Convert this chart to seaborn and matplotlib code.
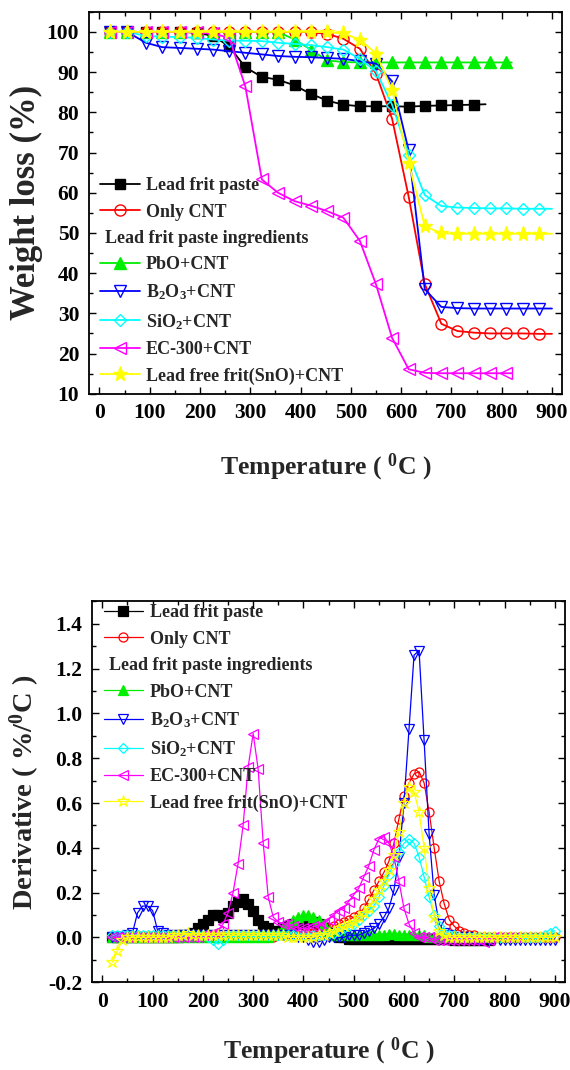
import numpy as np
import matplotlib
matplotlib.use('Agg')
import matplotlib.pyplot as plt
from matplotlib.lines import Line2D
from matplotlib.ticker import MultipleLocator
import seaborn as sns

sns.set_theme(style='ticks')
plt.rcParams['font.family'] = ['Liberation Serif', 'DejaVu Serif']
plt.rcParams['font.weight'] = 'bold'
plt.rcParams['axes.labelweight'] = 'bold'
plt.rcParams['mathtext.fontset'] = 'custom'
plt.rcParams['mathtext.rm'] = 'Liberation Serif:bold'
plt.rcParams['mathtext.it'] = 'Liberation Serif:bold'
plt.rcParams['mathtext.bf'] = 'Liberation Serif:bold'

# --- series names ---
labels = ['Lead frit paste', 'Only CNT', 'PbO+CNT', 'B$_2$O$_3$+CNT',
          'SiO$_2$+CNT', 'EC-300+CNT', 'Lead free frit(SnO)+CNT']
header = 'Lead frit paste ingredients'

# --- TGA (weight loss, %) ---
t_tga = [20, 55, 92, 125, 160, 193, 226, 258, 290, 323, 355, 388, 420, 453,
         485, 518, 550, 582, 615, 647, 680, 712, 745, 777, 809, 842, 874]

tga_black_x = t_tga[:23] + [768]
tga_black = [100, 100, 100, 100, 100, 99.8, 99.0, 96.4, 91.2, 88.8, 88.1, 86.7,
             84.6, 82.9, 81.9, 81.5, 81.5, 81.5, 81.4, 81.6, 81.7, 81.8, 81.9, 82.0]
tga_red_x = t_tga + [900]
tga_red = [100, 100, 100, 100, 100, 100, 100, 100, 100, 100, 100, 100, 99.9, 99.5,
           98.3, 95.8, 89.6, 78.4, 59.0, 37.3, 27.4, 25.6, 25.2, 25.0, 25.0, 25.0,
           24.9, 24.9]
tga_green_x = t_tga[:25] + [820]
tga_green = [100, 100, 100, 100, 100, 100, 100, 100, 100, 100, 100, 98.1, 95.6,
             92.9, 92.5, 92.4, 92.4, 92.4, 92.4, 92.4, 92.4, 92.4, 92.4, 92.4, 92.4, 92.4]
tga_blue_x = t_tga + [900]
tga_blue = [100, 100, 97.3, 96.2, 96.0, 95.8, 95.6, 95.2, 94.8, 94.4, 94.0, 93.8,
            93.7, 93.5, 93.3, 92.7, 92.1, 87.7, 70.5, 36.0, 31.6, 31.3, 31.2, 31.2,
            31.2, 31.2, 31.2, 31.2]
tga_cyan_x = t_tga + [900]
tga_cyan = [100, 100, 99.0, 98.8, 98.7, 98.5, 98.1, 97.8, 97.8, 97.7, 97.3, 97.0,
            96.7, 96.2, 95.6, 93.3, 90.2, 81.9, 69.5, 59.4, 56.7, 56.3, 56.2, 56.1,
            56.1, 56.0, 56.0, 56.0]
tga_magenta_x = t_tga[:25] + [820]
tga_magenta = [100, 100, 100, 100, 100, 99.9, 99.6, 98.5, 86.5, 63.3, 60.0, 57.9,
               56.8, 55.4, 53.8, 48.0, 37.2, 23.9, 16.1, 15.2, 15.1, 15.1, 15.1,
               15.1, 15.1, 15.1]
tga_yellow_x = t_tga + [900]
tga_yellow = [100, 100, 100, 100, 100, 100, 100, 100, 100, 100, 100, 100, 100,
              99.9, 99.6, 98.1, 94.6, 85.6, 67.4, 51.7, 49.9, 49.8, 49.8, 49.8,
              49.8, 49.8, 49.8, 49.8]

# --- DTG (derivative, %/oC), sampled every 10 oC from 20 oC ---
t_dtg = np.arange(20, 901, 10)

dtg_black = [0.0, 0.0, 0.0, 0.0, 0.0, 0.0, 0.0, 0.0, 0.0, 0.0,
             0.0, 0.0, 0.0, 0.0, 0.01, 0.01, 0.02, 0.04, 0.06, 0.08,
             0.10, 0.10, 0.09, 0.11, 0.14, 0.16, 0.17, 0.15, 0.12, 0.08,
             0.05, 0.04, 0.03, 0.03, 0.04, 0.05, 0.06, 0.06, 0.07, 0.07,
             0.07, 0.06, 0.04, 0.02, 0.01, 0.0, 0.0, -0.005, -0.005, -0.005,
             -0.005, -0.005, -0.005, -0.005, -0.005, -0.005, -0.005, -0.005, -0.005, -0.005,
             -0.005, -0.005, -0.005, -0.005, -0.005, -0.005, -0.005, -0.005, -0.01, -0.01,
             -0.01, -0.01, -0.01, -0.01, -0.01, -0.01]
dtg_red = [0.0, 0.0, 0.0, 0.0, 0.0, 0.0, 0.0, 0.0, 0.0, 0.0,
           0.0, 0.0, 0.0, 0.0, 0.0, 0.0, 0.0, 0.0, 0.0, 0.0,
           0.0, 0.0, 0.0, 0.0, 0.0, 0.0, 0.0, 0.0, 0.0, 0.0,
           0.0, 0.0, 0.0, 0.01, 0.01, 0.01, 0.01, 0.01, 0.01, 0.02,
           0.02, 0.03, 0.03, 0.04, 0.05, 0.06, 0.07, 0.08, 0.09, 0.10,
           0.13, 0.17, 0.21, 0.25, 0.29, 0.34, 0.42, 0.53, 0.63, 0.69,
           0.73, 0.74, 0.69, 0.56, 0.40, 0.25, 0.15, 0.08, 0.05, 0.03,
           0.02, 0.01, 0.01, 0.0, 0.0, 0.0, 0.0, 0.0, 0.0, 0.0,
           0.0, 0.0, 0.0, 0.0, 0.0, 0.0, 0.0, 0.0, 0.0]
dtg_green = [0.0, 0.0, 0.0, 0.0, 0.0, 0.0, 0.0, 0.0, 0.0, 0.0,
             0.0, 0.0, 0.0, 0.0, 0.0, 0.0, 0.0, 0.0, 0.0, 0.0,
             0.0, 0.0, 0.0, 0.0, 0.0, 0.0, 0.0, 0.0, 0.0, 0.0,
             0.0, 0.0, 0.01, 0.02, 0.04, 0.06, 0.08, 0.09, 0.10, 0.10,
             0.09, 0.08, 0.06, 0.03, 0.01, 0.01, 0.01, 0.01, 0.01, 0.01,
             0.01, 0.01, 0.01, 0.01, 0.01, 0.015, 0.015, 0.01, 0.01, 0.01,
             0.01, 0.01, 0.01, 0.0, 0.0, 0.0, 0.0, 0.0, 0.0, 0.0,
             0.0, 0.0, 0.0, 0.0, 0.0, 0.0, 0.0, 0.0, 0.0, 0.0, 0.0]
dtg_blue = [0.0, 0.0, 0.0, 0.01, 0.02, 0.11, 0.14, 0.14, 0.12, 0.03,
            0.02, 0.01, 0.01, 0.01, 0.01, 0.01, 0.01, 0.01, 0.01, 0.01,
            0.01, 0.01, 0.01, 0.01, 0.01, 0.01, 0.01, 0.01, 0.01, 0.01,
            0.01, 0.01, 0.01, 0.01, 0.01, 0.01, 0.01, 0.0, 0.0, -0.01,
            -0.02, -0.02, -0.01, 0.0, 0.0, 0.0, 0.0, 0.01, 0.01, 0.01,
            0.02, 0.03, 0.04, 0.06, 0.09, 0.13, 0.21, 0.36, 0.60, 0.93,
            1.26, 1.28, 0.88, 0.46, 0.19, 0.06, 0.02, 0.01, 0.0, 0.0,
            0.0, 0.0, -0.01, -0.01, -0.01, -0.01, -0.01, -0.01, -0.01, -0.01,
            -0.01, -0.01, -0.01, -0.01, -0.01, -0.01, -0.01, -0.01, -0.01]
dtg_cyan = [0.01, 0.01, 0.01, 0.01, 0.01, 0.01, 0.01, 0.01, 0.01, 0.01,
            0.01, 0.01, 0.01, 0.01, 0.01, 0.01, 0.01, 0.01, 0.01, 0.0,
            -0.01, -0.03, -0.01, 0.01, 0.01, 0.01, 0.01, 0.01, 0.01, 0.01,
            0.01, 0.01, 0.01, 0.01, 0.01, 0.01, 0.01, 0.01, 0.01, 0.01,
            0.01, 0.01, 0.01, 0.02, 0.02, 0.03, 0.04, 0.05, 0.06, 0.08,
            0.10, 0.12, 0.14, 0.18, 0.23, 0.28, 0.33, 0.38, 0.42, 0.44,
            0.42, 0.36, 0.27, 0.18, 0.10, 0.05, 0.02, 0.01, 0.01, 0.0,
            0.0, 0.0, 0.0, 0.0, 0.0, 0.0, 0.0, 0.0, 0.0, 0.0,
            0.0, 0.0, 0.0, 0.0, 0.0, 0.0, 0.01, 0.02, 0.03]
dtg_magenta = [0.0, 0.0, 0.0, 0.0, 0.0, 0.0, 0.0, 0.0, 0.0, 0.0,
               0.0, 0.0, 0.0, 0.0, 0.0, 0.0, 0.0, 0.0, 0.01, 0.01,
               0.02, 0.03, 0.06, 0.11, 0.20, 0.33, 0.50, 0.76, 0.91, 0.75,
               0.42, 0.18, 0.09, 0.07, 0.06, 0.06, 0.05, 0.04, 0.04, 0.04,
               0.05, 0.05, 0.06, 0.08, 0.10, 0.12, 0.13, 0.16, 0.19, 0.22,
               0.27, 0.32, 0.39, 0.44, 0.45, 0.42, 0.36, 0.25, 0.13, 0.06,
               0.02, 0.0, 0.0, 0.0, -0.01, -0.01, -0.01, -0.01, -0.01, -0.01,
               -0.01, -0.01, -0.01, -0.01, -0.02, -0.01, 0.0, 0.0, 0.0, 0.0, 0.0]
dtg_yellow = [-0.11, -0.06, -0.01, 0.0, 0.0, 0.0, 0.0, 0.0, 0.0, 0.0,
              0.0, 0.0, 0.01, 0.01, 0.01, 0.02, 0.01, 0.01, 0.01, 0.01,
              0.01, 0.01, 0.01, 0.01, 0.01, 0.01, 0.01, 0.01, 0.01, 0.01,
              0.01, 0.01, 0.01, 0.01, 0.01, 0.0, 0.0, 0.0, 0.0, 0.0,
              0.0, 0.01, 0.01, 0.02, 0.03, 0.04, 0.05, 0.06, 0.07, 0.09,
              0.11, 0.13, 0.17, 0.21, 0.25, 0.30, 0.37, 0.47, 0.60, 0.67,
              0.65, 0.56, 0.40, 0.22, 0.09, 0.03, 0.01, 0.0, 0.0, 0.0,
              0.0, 0.0, 0.0, 0.0, 0.0, 0.0, 0.0, 0.0, 0.0, 0.0,
              0.0, 0.0, 0.0, 0.0, 0.0, 0.0, 0.0, 0.0, 0.0]

# style per series: color, marker, filled(top), filled(bottom)
colors = ['#000000', '#ff0000', '#00ee00', '#0000ff', '#00ffff', '#ff00ff', '#ffff00']
markers = ['s', 'o', '^', 'v', 'D', '<', '*']
filled_top = [True, False, True, False, False, False, True]
filled_bot = [True, False, True, False, False, False, False]
msize_top = [7.5, 8, 8.5, 8.5, 6.5, 8.5, 11]
msize_bot = [6.5, 6.5, 7.5, 7, 5.5, 7, 9]

fig = plt.figure(figsize=(5.7, 10.7), dpi=100)
ax1 = fig.add_axes([0.156, 0.632, 0.830, 0.357])
ax2 = fig.add_axes([0.161, 0.082, 0.830, 0.356])

tga = [(tga_black_x, tga_black), (tga_red_x, tga_red), (tga_green_x, tga_green),
       (tga_blue_x, tga_blue), (tga_cyan_x, tga_cyan),
       (tga_magenta_x, tga_magenta), (tga_yellow_x, tga_yellow)]
dtg = [dtg_black, dtg_red, dtg_green, dtg_blue, dtg_cyan, dtg_magenta, dtg_yellow]

h1 = []
for i, (xs, ys) in enumerate(tga):
    sns.lineplot(x=xs, y=ys, ax=ax1, color=colors[i], marker=markers[i],
                 markersize=msize_top[i],
                 markerfacecolor=colors[i] if filled_top[i] else 'none',
                 markeredgecolor=colors[i], markeredgewidth=1.0, linewidth=1.3,
                 markevery=list(range(len(xs) - 1)), estimator=None, sort=False)
    h1.append(ax1.lines[-1])

h2 = []
for i, ys in enumerate(dtg):
    xs = t_dtg[:len(ys)]
    sns.lineplot(x=xs, y=ys, ax=ax2, color=colors[i], marker=markers[i],
                 markersize=msize_bot[i],
                 markerfacecolor=colors[i] if filled_bot[i] else 'none',
                 markeredgecolor=colors[i], markeredgewidth=0.9, linewidth=0.9,
                 estimator=None, sort=False)
    h2.append(ax2.lines[-1])

blank = Line2D([], [], linestyle='none')


def add_legend(ax, handles, anchor, loc):
    hs = handles[:2] + [blank] + handles[2:]
    ls = labels[:2] + [header] + labels[2:]
    leg = ax.legend(hs, ls, loc=loc, bbox_to_anchor=anchor, frameon=False,
                    fontsize=13, handlelength=2.2, handletextpad=0.35,
                    labelspacing=0.52, borderpad=0, borderaxespad=0)
    leg.get_texts()[2].set_x(-41)
    return leg


add_legend(ax1, h1, (0.023, 0.024), 'lower left')
add_legend(ax2, h2, (0.025, 0.992), 'upper left')

for ax in (ax1, ax2):
    ax.set_xlim(-21, 920)
    ax.xaxis.set_major_locator(MultipleLocator(100))
    ax.xaxis.set_minor_locator(MultipleLocator(50))
    ax.tick_params(which='both', direction='in', top=True, right=True,
                   width=1, labelsize=15.5, pad=7, colors='black')
    ax.tick_params(which='major', length=5)
    ax.tick_params(which='minor', length=3)
    for s in ax.spines.values():
        s.set_linewidth(1.3)
        s.set_color('black')
    ax.set_xlabel('Temperature ( $^{0}$C )', fontsize=18.5)

ax1.set_ylim(10, 105)
ax1.yaxis.set_major_locator(MultipleLocator(10))
ax1.yaxis.set_minor_locator(MultipleLocator(5))
ax1.set_ylabel('Weight loss (%)', fontsize=25, labelpad=3)
ax1.xaxis.labelpad = 20

ax2.set_ylim(-0.2, 1.5)
ax2.yaxis.set_major_locator(MultipleLocator(0.2))
ax2.yaxis.set_minor_locator(MultipleLocator(0.1))
ax2.yaxis.set_major_formatter(matplotlib.ticker.FormatStrFormatter('%.1f'))
ax2.set_ylabel('Derivative ( %/$^{0}$C )', fontsize=20.5, labelpad=4)
ax2.xaxis.labelpad = 17

fig.savefig('out.png', dpi=100)
